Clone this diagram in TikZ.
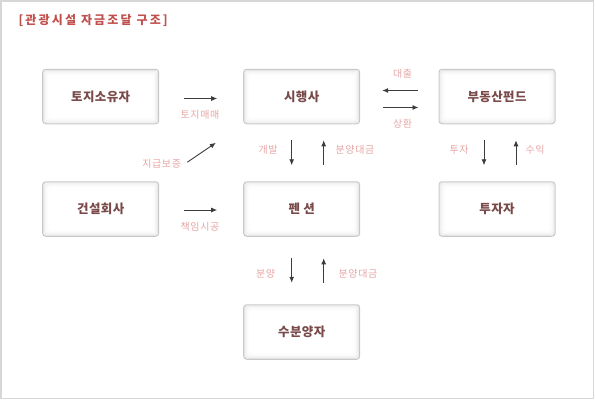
\documentclass[tikz,border=0pt]{standalone}
\usepackage{fontspec}
\setmainfont{Noto Sans CJK KR}
\usetikzlibrary{arrows.meta}

\definecolor{framegray}{RGB}{215,215,215}
\definecolor{boxline}{RGB}{200,200,200}
\definecolor{boxtext}{RGB}{122,74,74}
\definecolor{lblpink}{RGB}{230,165,165}
\definecolor{titlered}{RGB}{192,80,77}
\definecolor{arrowgray}{RGB}{60,60,60}

\tikzset{
  box/.style={draw=boxline, line width=1pt, fill=white, rounded corners=3pt,
    minimum width=116pt, minimum height=54.5pt, inner sep=0pt,
    font=\fontsize{12.5}{14}\selectfont\bfseries\addfontfeature{LetterSpace=3}, text=boxtext,
    path picture={
      \foreach \i/\c in {1/9,2/6,3/4,4/2,5/1}
        \draw[black!\c, line width=1pt, rounded corners=3pt]
          ([shift={(\i pt,-\i pt)}]path picture bounding box.north west) rectangle
          ([shift={(-\i pt,\i pt)}]path picture bounding box.south east);
    }},
  lbl/.style={font=\fontsize{10}{12}\selectfont\addfontfeature{LetterSpace=6}, text=lblpink, inner sep=0pt},
  arr/.style={draw=arrowgray, line width=0.9pt, -{Latex[length=6pt,width=5pt]}}
}

\begin{document}
\begin{tikzpicture}[x=1pt, y=-1pt]
    \useasboundingbox (0,0) rectangle (595,400);
    \draw[framegray, line width=1.5pt] (0.75,0.75) rectangle (593.5,398.5);
    \node[font=\fontsize{12}{14}\selectfont\bfseries\addfontfeature{LetterSpace=18}, text=titlered, anchor=west] (title) at (15,20) {[관광시설 자금조달 구조]};

    % --- Boxes ---
    \node[box] (owner) at (100.7,96.5) {토지소유자};
    \node[box] (dev) at (301.7,96.5) {시행사};
    \node[box] (fund) at (497,96.5) {부동산펀드};
    \node[box] (con) at (100.7,209) {건설회사};
    \node[box] (pension) at (301.7,209) {펜 션};
    \node[box] (investor) at (497,209) {투자자};
    \node[box] (buyer) at (301.7,332) {수분양자};

    % --- Arrows ---
    \draw[arr, shorten <=25pt, shorten >=26pt] ([yshift=-2pt]owner.east) -- ([yshift=-2pt]dev.west);
    \draw[arr, shorten <=34pt, shorten >=33pt] (con.north east) -- (dev.south west);
    \draw[arr, shorten <=25pt, shorten >=26pt] ([yshift=-1pt]con.east) -- ([yshift=-1pt]pension.west);
    \draw[arr, shorten <=21pt, shorten >=22pt] ([yshift=6pt]fund.west) -- ([yshift=6pt]dev.east);
    \draw[arr, shorten <=23pt, shorten >=20pt] ([yshift=-11pt]dev.east) -- ([yshift=-11pt]fund.west);
    \draw[arr, shorten <=16pt, shorten >=16pt] ([xshift=-10pt]dev.south) -- ([xshift=-10pt]pension.north);
    \draw[arr, shorten <=16pt, shorten >=16pt] ([xshift=22pt]pension.north) -- ([xshift=22pt]dev.south);
    \draw[arr, shorten <=16pt, shorten >=16pt] ([xshift=-13pt]fund.south) -- ([xshift=-13pt]investor.north);
    \draw[arr, shorten <=16pt, shorten >=16pt] ([xshift=19pt]investor.north) -- ([xshift=19pt]fund.south);
    \draw[arr, shorten <=21.5pt, shorten >=21.5pt] ([xshift=-10pt]pension.south) -- ([xshift=-10pt]buyer.north);
    \draw[arr, shorten <=21.5pt, shorten >=21.5pt] ([xshift=22pt]buyer.north) -- ([xshift=22pt]pension.south);

    % --- Labels ---
    \node[lbl] (sale) at (200,115) {토지매매};
    \node[lbl] (guar) at (161.7,163.3) {지급보증};
    \node[lbl] (build) at (200,226.7) {책임시공};
    \node[lbl] (loan) at (402.7,74) {대출};
    \node[lbl] (repay) at (402.7,123.3) {상환};
    \node[lbl] (develop) at (268,150) {개발};
    \node[lbl] (price) at (355,150) {분양대금};
    \node[lbl] (invest) at (459,150) {투자};
    \node[lbl] (profit) at (535,150) {수익};
    \node[lbl] (sell) at (265.7,273.3) {분양};
    \node[lbl] (price2) at (358,273.3) {분양대금};
\end{tikzpicture}
\end{document}
